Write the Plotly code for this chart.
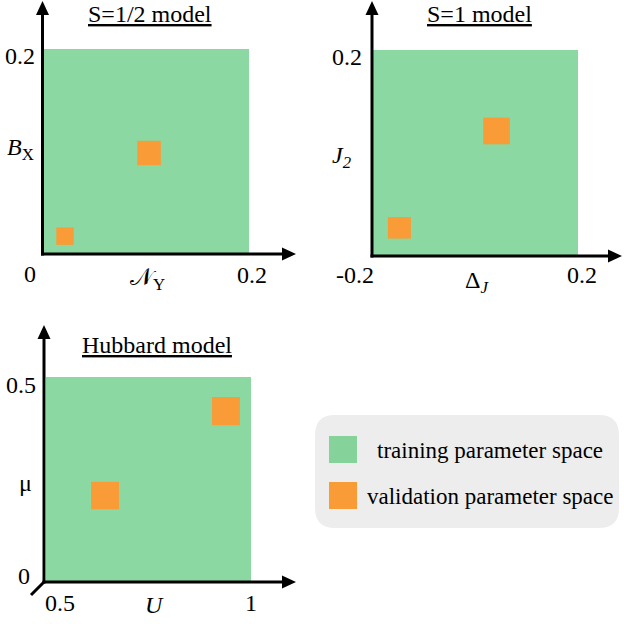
import plotly.graph_objects as go

FIG = 624
SERIF = "Liberation Serif"
GREEN = "rgb(139,216,163)"
ORANGE = "rgb(249,155,55)"
LEGEND_GREEN = "rgb(133,211,155)"
LEGEND_BG = "rgb(237,237,237)"

# ---------------- S=1/2 model ----------------
s12_title = "S=1/2 model"
s12_xlabel = "𝒩<sub>Y</sub>"
s12_ylabel = "<i>B</i><sub>X</sub>"
s12_train_x = [0.0, 0.2]
s12_train_y = [0.0, 0.2]
s12_val_x = [[0.012, 0.029], [0.091, 0.114]]
s12_val_y = [[0.008, 0.025], [0.086, 0.110]]
s12_xtick_vals = [0.0, 0.2]
s12_xtick_text = ["0", "0.2"]
s12_ytick_vals = [0.2]
s12_ytick_text = ["0.2"]

# ---------------- S=1 model ----------------
s1_title = "S=1 model"
s1_xlabel = "Δ<sub><i>J</i></sub>"
s1_ylabel = "<i>J</i><sub><i>2</i></sub>"
s1_train_x = [-0.2, 0.2]
s1_train_y = [0.0, 0.2]
s1_val_x = [[-0.171, -0.126], [0.015, 0.067]]
s1_val_y = [[0.016, 0.037], [0.108, 0.134]]
s1_xtick_vals = [-0.2, 0.2]
s1_xtick_text = ["-0.2", "0.2"]
s1_ytick_vals = [0.2]
s1_ytick_text = ["0.2"]

# ---------------- Hubbard model ----------------
hub_title = "Hubbard model"
hub_xlabel = "<i>U</i>"
hub_ylabel = "μ"
hub_train_x = [0.5, 1.0]
hub_train_y = [0.0, 0.5]
hub_val_x = [[0.610, 0.678], [0.905, 0.973]]
hub_val_y = [[0.176, 0.243], [0.382, 0.451]]
hub_xtick_vals = [0.5, 1.0]
hub_xtick_text = ["0.5", "1"]
hub_ytick_vals = [0.0, 0.5]
hub_ytick_text = ["0", "0.5"]

legend_labels = ["training parameter space", "validation parameter space"]


def px(x):
    return x / FIG


def py(y):
    return 1 - y / FIG


# Layout of each panel in screen pixels: the subplot box, where the ends of the
# training range land, the axis-arrow geometry and the label placements.
panels = [
    dict(
        suffix="", title=s12_title, xlabel=s12_xlabel, ylabel=s12_ylabel,
        train_x=s12_train_x, train_y=s12_train_y, val_x=s12_val_x, val_y=s12_val_y,
        xticks=(s12_xtick_vals, s12_xtick_text), yticks=(s12_ytick_vals, s12_ytick_text),
        box=(0, 0, 312, 300), xpix=(44, 249), ypix=(253, 49),
        origin=(42.5, 254), xtip=296, ytip=1, stub=None,
        xtick_shift=[(-14, 21), (3, 22)], ytick_shift=[(-24, 7)],
        title_pos=(150, 14), xlabel_pos=(147, 279), ylabel_pos=(20, 149),
    ),
    dict(
        suffix="2", title=s1_title, xlabel=s1_xlabel, ylabel=s1_ylabel,
        train_x=s1_train_x, train_y=s1_train_y, val_x=s1_val_x, val_y=s1_val_y,
        xticks=(s1_xtick_vals, s1_xtick_text), yticks=(s1_ytick_vals, s1_ytick_text),
        box=(312, 0, 624, 300), xpix=(373, 578), ypix=(255, 50),
        origin=(372, 256), xtip=622, ytip=1, stub=None,
        xtick_shift=[(-18, 20), (4, 20)], ytick_shift=[(-26, 7)],
        title_pos=(479, 14), xlabel_pos=(477, 282), ylabel_pos=(342, 157),
    ),
    dict(
        suffix="3", title=hub_title, xlabel=hub_xlabel, ylabel=hub_ylabel,
        train_x=hub_train_x, train_y=hub_train_y, val_x=hub_val_x, val_y=hub_val_y,
        xticks=(hub_xtick_vals, hub_xtick_text), yticks=(hub_ytick_vals, hub_ytick_text),
        box=(0, 300, 312, 624), xpix=(46, 251), ypix=(581, 377),
        origin=(44, 582), xtip=296, ytip=325, stub=(31, 595),
        xtick_shift=[(14, 22), (0, 22)], ytick_shift=[(-22, -5), (-25, 8)],
        title_pos=(157, 345), xlabel_pos=(154, 605), ylabel_pos=(25, 483),
    ),
]

fig = go.Figure()
annotations = []
shapes = []
layout_axes = {}

HEAD_LEN = 14   # arrowhead length, px
HEAD_HALF = 6.5  # arrowhead half width, px
AXIS_W = 3


def rect_xy(xr, yr):
    return [xr[0], xr[1], xr[1], xr[0], xr[0]], [yr[0], yr[0], yr[1], yr[1], yr[0]]


def paper_path(points):
    return "M" + " L".join(f"{px(a):.5f},{py(b):.5f}" for a, b in points) + " Z"


for p in panels:
    s = p["suffix"]
    xref, yref = "x" + s, "y" + s
    l, t, r, b = p["box"]
    tx, ty = p["train_x"], p["train_y"]

    # axis ranges so that the training range sits at the requested pixels
    sx = (p["xpix"][1] - p["xpix"][0]) / (tx[1] - tx[0])
    sy = (p["ypix"][0] - p["ypix"][1]) / (ty[1] - ty[0])
    xrange = [tx[0] + (l - p["xpix"][0]) / sx, tx[0] + (r - p["xpix"][0]) / sx]
    yrange = [ty[0] + (p["ypix"][0] - b) / sy, ty[0] + (p["ypix"][0] - t) / sy]

    axis_common = dict(visible=False, fixedrange=True, showgrid=False, zeroline=False)
    layout_axes["xaxis" + s] = dict(axis_common, domain=[px(l), px(r)], range=xrange,
                                    anchor=yref)
    layout_axes["yaxis" + s] = dict(axis_common, domain=[py(b), py(t)], range=yrange,
                                    anchor=xref)

    # training region
    x, y = rect_xy(tx, ty)
    fig.add_trace(go.Scatter(x=x, y=y, xaxis=xref, yaxis=yref, mode="lines",
                             fill="toself", fillcolor=GREEN, line=dict(width=0),
                             hoverinfo="skip", showlegend=False))
    # validation regions
    for vx, vy in zip(p["val_x"], p["val_y"]):
        x, y = rect_xy(vx, vy)
        fig.add_trace(go.Scatter(x=x, y=y, xaxis=xref, yaxis=yref, mode="lines",
                                 fill="toself", fillcolor=ORANGE, line=dict(width=0),
                                 hoverinfo="skip", showlegend=False))

    # axis lines with arrowheads
    ox, oy = p["origin"]
    xt, yt = p["xtip"], p["ytip"]
    line = dict(color="black", width=AXIS_W)
    shapes.append(dict(type="line", xref="paper", yref="paper",
                       x0=px(ox - AXIS_W / 2), y0=py(oy), x1=px(xt - HEAD_LEN + 1), y1=py(oy),
                       line=line))
    shapes.append(dict(type="line", xref="paper", yref="paper",
                       x0=px(ox), y0=py(oy + AXIS_W / 2), x1=px(ox), y1=py(yt + HEAD_LEN - 1),
                       line=line))
    shapes.append(dict(type="path", xref="paper", yref="paper",
                       path=paper_path([(xt, oy), (xt - HEAD_LEN, oy - HEAD_HALF),
                                        (xt - HEAD_LEN, oy + HEAD_HALF)]),
                       fillcolor="black", line=dict(width=0)))
    shapes.append(dict(type="path", xref="paper", yref="paper",
                       path=paper_path([(ox, yt), (ox - HEAD_HALF, yt + HEAD_LEN),
                                        (ox + HEAD_HALF, yt + HEAD_LEN)]),
                       fillcolor="black", line=dict(width=0)))
    if p["stub"]:
        shapes.append(dict(type="line", xref="paper", yref="paper",
                           x0=px(ox), y0=py(oy), x1=px(p["stub"][0]), y1=py(p["stub"][1]),
                           line=line))

    tick_font = dict(family=SERIF, size=24, color="black")
    # x tick labels, placed under the bottom edge of the training range
    for (val, txt), (dx, dy) in zip(zip(*p["xticks"]), p["xtick_shift"]):
        annotations.append(dict(text=txt, x=val, y=ty[0], xref=xref, yref=yref,
                                xshift=dx, yshift=-dy, showarrow=False,
                                xanchor="center", yanchor="middle", font=tick_font))
    # y tick labels, placed left of the training range
    for (val, txt), (dx, dy) in zip(zip(*p["yticks"]), p["ytick_shift"]):
        annotations.append(dict(text=txt, x=tx[0], y=val, xref=xref, yref=yref,
                                xshift=dx, yshift=-dy, showarrow=False,
                                xanchor="center", yanchor="middle", font=tick_font))

    # title and axis labels
    for key, pos_key in (("title", "title_pos"), ("xlabel", "xlabel_pos"),
                         ("ylabel", "ylabel_pos")):
        txt = "<u>" + p[key] + "</u>" if key == "title" else p[key]
        annotations.append(dict(text=txt, x=px(p[pos_key][0]), y=py(p[pos_key][1]),
                                xref="paper", yref="paper", showarrow=False,
                                xanchor="center", yanchor="middle",
                                font=dict(family=SERIF, size=24, color="black")))


# ---------------- legend box ----------------
def rounded_rect_path(x0, y0, x1, y1, rad):
    pts = [
        ("M", x0 + rad, y0), ("L", x1 - rad, y0), ("Q", x1, y0, x1, y0 + rad),
        ("L", x1, y1 - rad), ("Q", x1, y1, x1 - rad, y1), ("L", x0 + rad, y1),
        ("Q", x0, y1, x0, y1 - rad), ("L", x0, y0 + rad), ("Q", x0, y0, x0 + rad, y0),
    ]
    out = []
    for seg in pts:
        cmd, coords = seg[0], seg[1:]
        vals = []
        for i in range(0, len(coords), 2):
            vals.append(f"{px(coords[i]):.5f},{py(coords[i + 1]):.5f}")
        out.append(cmd + " ".join(vals))
    return " ".join(out) + " Z"


shapes.append(dict(type="path", xref="paper", yref="paper",
                   path=rounded_rect_path(315, 415, 619, 528, 20),
                   fillcolor=LEGEND_BG, line=dict(width=0), layer="below"))

legend_rows = [(436, 463, LEGEND_GREEN), (482, 509, ORANGE)]
for (top, bot, col), label in zip(legend_rows, legend_labels):
    shapes.append(dict(type="rect", xref="paper", yref="paper",
                       x0=px(329), x1=px(357), y0=py(bot), y1=py(top),
                       fillcolor=col, line=dict(width=0)))
    annotations.append(dict(text=label, x=px(490), y=py((top + bot) / 2 + 1),
                            xref="paper", yref="paper", showarrow=False,
                            xanchor="center", yanchor="middle",
                            font=dict(family=SERIF, size=23, color="black")))

fig.update_layout(
    width=FIG, height=FIG,
    margin=dict(l=0, r=0, t=0, b=0, pad=0),
    paper_bgcolor="white", plot_bgcolor="rgba(0,0,0,0)",
    showlegend=False,
    annotations=annotations, shapes=shapes,
    **layout_axes,
)

fig.write_html("out.html")
